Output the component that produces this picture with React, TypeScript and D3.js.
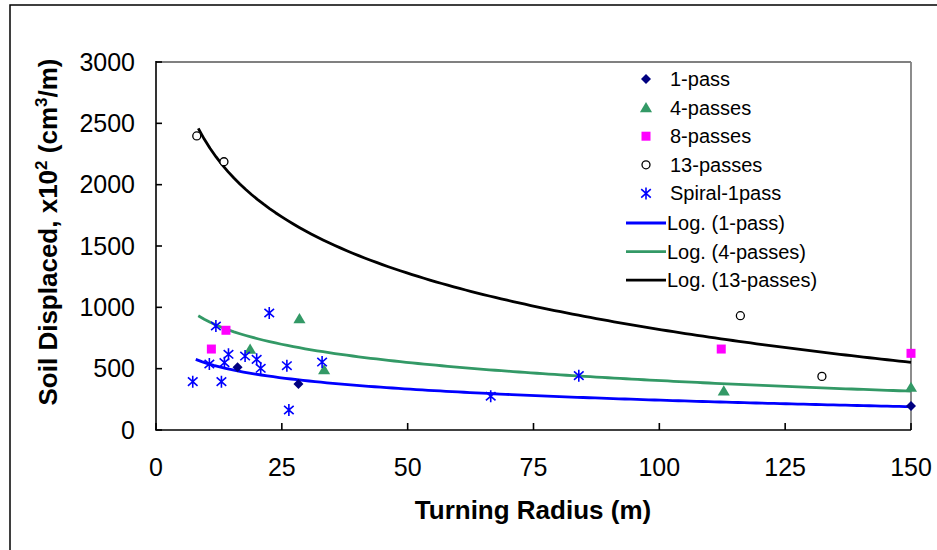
import React from "react";
import * as d3 from "d3";

const onePassX = [16.2, 28.3, 150];
const onePassY = [511, 375, 196];
const fourPassX = [18.7, 28.5, 33.4, 112.8, 150];
const fourPassY = [660, 908, 493, 320, 349];
const eightPassX = [11, 13.9, 112.3, 150];
const eightPassY = [660, 813, 660, 625];
const thirteenPassX = [8.1, 13.5, 116.1, 132.3];
const thirteenPassY = [2397, 2187, 932, 437];
const spiralX = [7.3, 10.6, 11.9, 13.0, 13.6, 14.4, 17.7, 20.0, 20.8, 22.5, 26.0, 26.4, 33.0, 66.5, 84.0];
const spiralY = [394, 538, 848, 394, 549, 617, 603, 576, 503, 954, 524, 163, 554, 275, 443];

const trendNames = ["Log. (1-pass)", "Log. (4-passes)", "Log. (13-passes)"];
const trendA = [847, 1384, 3867];
const trendB = [-131.1, -213, -661.7];
const trendStart = [7.9, 8.4, 8.4];
const trendEnd = [150, 150, 150];
const trendColors = ["#0000ff", "#339966", "#000000"];

const xTicks = [0, 25, 50, 75, 100, 125, 150];
const yTicks = [0, 500, 1000, 1500, 2000, 2500, 3000];

const FONT = "Arial, 'Liberation Sans', sans-serif";

const pts = (xs: number[], ys: number[]) => xs.map((x, i) => ({ x, y: ys[i] }));

export default function App() {
  const x = d3.scaleLinear().domain([0, 150]).range([156, 911]);
  const y = d3.scaleLinear().domain([0, 3000]).range([430, 62]);

  const trendPaths = trendA.map((a, k) => {
    const xs = d3.range(trendStart[k], trendEnd[k] + 0.001, (trendEnd[k] - trendStart[k]) / 120);
    const line = d3
      .line<number>()
      .x((v) => x(v))
      .y((v) => y(a + trendB[k] * Math.log(v)));
    return line(xs) || "";
  });

  const diamond = (cx: number, cy: number, r: number) =>
    `M${cx},${cy - r}L${cx + r},${cy}L${cx},${cy + r}L${cx - r},${cy}Z`;
  const triangle = (cx: number, cy: number, r: number) =>
    `M${cx},${cy - r}L${cx + r * 1.1},${cy + r * 0.85}L${cx - r * 1.1},${cy + r * 0.85}Z`;
  const asterisk = (cx: number, cy: number, r: number) =>
    `M${cx},${cy - r}L${cx},${cy + r}M${cx - r * 0.8},${cy - r * 0.7}L${cx + r * 0.8},${cy + r * 0.7}M${cx - r * 0.8},${cy + r * 0.7}L${cx + r * 0.8},${cy - r * 0.7}`;

  const legendY0 = 79;
  const legendStep = 28.6;
  const legendMarkerX = 646;
  const legendTextX = 670;

  const markerLegend = [
    { name: "1-pass", kind: "diamond" },
    { name: "4-passes", kind: "triangle" },
    { name: "8-passes", kind: "square" },
    { name: "13-passes", kind: "circle" },
    { name: "Spiral-1pass", kind: "asterisk" },
  ];

  const drawMarker = (kind: string, cx: number, cy: number, key: string | number) => {
    switch (kind) {
      case "diamond":
        return <path key={key} d={diamond(cx, cy, 5)} fill="#000080" />;
      case "triangle":
        return <path key={key} d={triangle(cx, cy, 5.5)} fill="#339966" />;
      case "square":
        return <rect key={key} x={cx - 4.5} y={cy - 4.5} width={9} height={9} fill="#ff00ff" />;
      case "circle":
        return <circle key={key} cx={cx} cy={cy} r={4} fill="#fff" stroke="#000" strokeWidth={1.3} />;
      default:
        return <path key={key} d={asterisk(cx, cy, 6)} fill="none" stroke="#0000ff" strokeWidth={1.6} />;
    }
  };

  return (
    <svg
      width={937}
      height={550}
      style={{ position: "absolute", left: 0, top: 0, background: "#fff" }}
      fontFamily={FONT}
    >
      <rect x={0} y={0} width={937} height={550} fill="#fff" />
      {/* outer chart border */}
      <rect x={10} y={5} width={960} height={600} fill="none" stroke="#000" strokeWidth={1.5} />

      {/* plot frame */}
      <line x1={x(0)} x2={x(150)} y1={y(3000)} y2={y(3000)} stroke="#808080" strokeWidth={1.8} />
      <line x1={x(150)} x2={x(150)} y1={y(3000)} y2={y(0)} stroke="#808080" strokeWidth={1.8} />

      {/* trendlines */}
      {trendPaths.map((d, k) => (
        <path key={k} d={d} fill="none" stroke={trendColors[k]} strokeWidth={2.8} strokeLinejoin="round" />
      ))}

      {/* axes */}
      <line x1={x(0)} x2={x(0)} y1={y(0)} y2={y(3000) - 0.9} stroke="#000" strokeWidth={1.6} />
      <line x1={x(0) - 0.8} x2={x(150)} y1={y(0)} y2={y(0)} stroke="#000" strokeWidth={1.6} />
      {yTicks.map((t) => (
        <g key={"y" + t}>
          <line x1={x(0)} x2={x(0) + 6} y1={y(t)} y2={y(t)} stroke="#000" strokeWidth={1.6} />
          <text x={135} y={y(t)} dy="0.35em" textAnchor="end" fontSize={25} fill="#000">
            {t}
          </text>
        </g>
      ))}
      {xTicks.map((t) => (
        <g key={"x" + t}>
          <line x1={x(t)} x2={x(t)} y1={y(0)} y2={y(0) - 7} stroke="#000" strokeWidth={1.6} />
          <text x={x(t)} y={467} dy="0.35em" textAnchor="middle" fontSize={25} fill="#000">
            {t}
          </text>
        </g>
      ))}

      {/* data points */}
      {pts(onePassX, onePassY).map((p, i) => drawMarker("diamond", x(p.x), y(p.y), "d" + i))}
      {pts(fourPassX, fourPassY).map((p, i) => drawMarker("triangle", x(p.x), y(p.y), "t" + i))}
      {pts(eightPassX, eightPassY).map((p, i) => drawMarker("square", x(p.x), y(p.y), "s" + i))}
      {pts(thirteenPassX, thirteenPassY).map((p, i) => drawMarker("circle", x(p.x), y(p.y), "c" + i))}
      {pts(spiralX, spiralY).map((p, i) => drawMarker("asterisk", x(p.x), y(p.y), "a" + i))}

      {/* axis titles */}
      <text x={533} y={510} dy="0.35em" textAnchor="middle" fontSize={26} fontWeight="bold" fill="#000">
        Turning Radius (m)
      </text>
      <text
        transform={`translate(48,232) rotate(-90)`}
        textAnchor="middle"
        dy="0.35em"
        fontSize={26}
        fontWeight="bold"
        fill="#000"
      >
        Soil Displaced, x10
        <tspan fontSize={17} dy={-10}>2</tspan>
        <tspan dy={10}> (cm</tspan>
        <tspan fontSize={17} dy={-10}>3</tspan>
        <tspan dy={10}>/m)</tspan>
      </text>

      {/* legend */}
      {markerLegend.map((m, i) => {
        const ly = legendY0 + i * legendStep;
        return (
          <g key={"lg" + i}>
            {drawMarker(m.kind, legendMarkerX, ly, "lm" + i)}
            <text x={legendTextX} y={ly} dy="0.35em" fontSize={20} fill="#000">
              {m.name}
            </text>
          </g>
        );
      })}
      {trendNames.map((n, k) => {
        const ly = legendY0 + (markerLegend.length + k) * legendStep + 1;
        return (
          <g key={"lt" + k}>
            <line x1={626} x2={666} y1={ly} y2={ly} stroke={trendColors[k]} strokeWidth={2.8} />
            <text x={667} y={ly} dy="0.35em" fontSize={20} fill="#000">
              {n}
            </text>
          </g>
        );
      })}
    </svg>
  );
}
